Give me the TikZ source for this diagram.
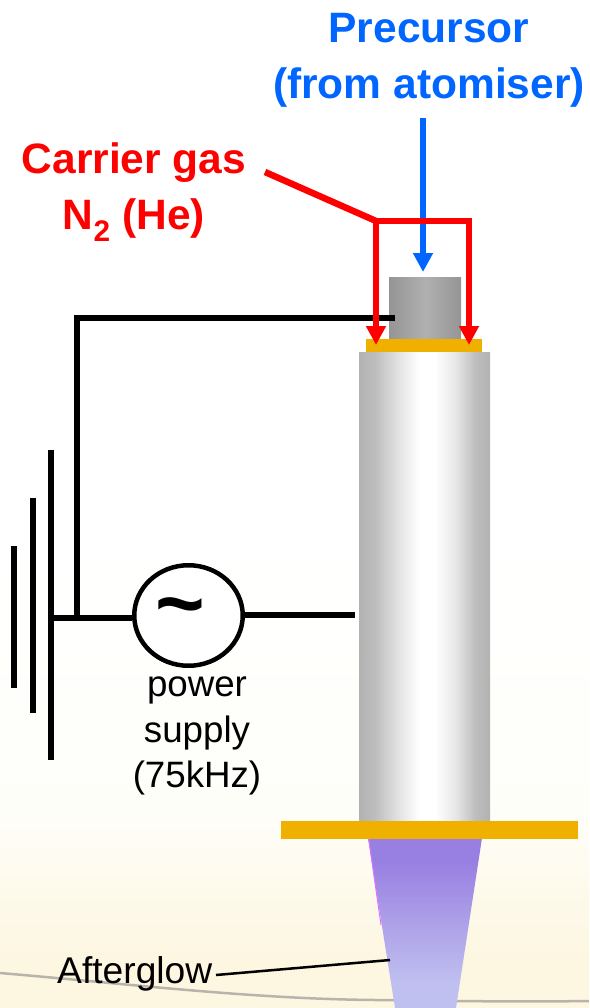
\documentclass[tikz,border=0pt]{standalone}
\usepackage{fontspec}
\setmainfont{Liberation Sans}
\usetikzlibrary{arrows.meta,shapes.geometric}
\definecolor{redgas}{HTML}{FF0000}
\definecolor{bluegas}{HTML}{0066FF}
\definecolor{flange}{HTML}{F0B000}
\definecolor{tubeg}{HTML}{B2B2B2}
\definecolor{tubeh}{HTML}{BDBDBD}
\definecolor{tubel}{HTML}{E6E6E6}
\definecolor{capd}{HTML}{959595}
\definecolor{capl}{HTML}{B0B0B0}
\definecolor{glowA}{HTML}{9880E2}
\definecolor{glowB}{HTML}{ADA0E8}
\definecolor{glowC}{HTML}{C0C0F0}
\definecolor{glowedge}{HTML}{E070FF}
\definecolor{curvegray}{HTML}{B8B4AC}
\pgfdeclarehorizontalshading{tubeshade}{100bp}{
  color(0bp)=(tubeg);
  color(25bp)=(tubeg);
  color(31bp)=(tubeh);
  color(41bp)=(tubel);
  color(48bp)=(white);
  color(54bp)=(white);
  color(62bp)=(tubel);
  color(69.5bp)=(tubeh);
  color(75bp)=(tubeg);
  color(100bp)=(tubeg)}
\pgfdeclarehorizontalshading{capshade}{100bp}{
  color(0bp)=(capd);
  color(25bp)=(capd);
  color(50bp)=(capl);
  color(75bp)=(capd);
  color(100bp)=(capd)}
\pgfdeclareverticalshading{glowshade}{100bp}{
  color(0bp)=(glowC);
  color(32bp)=(glowC);
  color(50bp)=(glowB);
  color(68bp)=(glowA);
  color(100bp)=(glowA)}
\definecolor{bgA}{HTML}{FFFFFF}
\definecolor{bgB}{HTML}{FEFEF9}
\definecolor{bgC}{HTML}{FDF6E0}
\pgfdeclareverticalshading{pageshade}{100bp}{
  color(0bp)=(bgC);
  color(27bp)=(bgC);
  color(35bp)=(bgB);
  color(48bp)=(bgA);
  color(100bp)=(bgA)}
\tikzset{
  x=1pt,y=-1pt,
  solid block/.style={draw=none,inner sep=0pt,outer sep=0pt,rectangle},
  wire/.style={line width=6.5pt,black},
  gasred/.style={line width=6.5pt,redgas},
  gasblue/.style={line width=6.5pt,bluegas},
  headtip/.style={-{Triangle[length=19pt,width=19pt]}},
  lab/.style={inner sep=0pt,align=center,text=black},
  big label/.style={inner sep=0pt,align=center,font=\fontsize{42.5}{56}\selectfont\bfseries},
}
\begin{document}
\begin{tikzpicture}
\useasboundingbox (0,0) rectangle (589,1008);
% page background
\shade[shading=pageshade] (0,0) rectangle (589,1008);
\draw[line width=2.5pt,curvegray] (0,973) .. controls (120,983) and (250,999) .. (376,1000) .. controls (450,1001) and (520,1002) .. (589,1001);
% plasma afterglow
\shade[shading=glowshade] (368,838) -- (482,838) -- (456,1008) -- (395,1008) -- cycle;
\draw[line width=1pt,glowedge] (368.6,838) -- (381,925);
% tube parts
\node[solid block,shading=capshade,shade,minimum width=72pt,minimum height=62pt] (cap) at (425,308) {};
\node[solid block,fill=flange,minimum width=116pt,minimum height=14pt] (topflange) at (424,346) {};
\node[solid block,shading=tubeshade,shade,minimum width=131pt,minimum height=470pt] (tube) at (424.5,587) {};
\node[solid block,fill=flange,minimum width=297pt,minimum height=18pt] (botflange) at (429.5,830) {};
% labels
\node[big label,text=bluegas] (precursor) at (429,60) {Precursor\\(from atomiser)};
\node[big label,text=redgas] (carrier) at (134,192) {Carrier gas\\N\textsubscript{2} (He)};
\node[lab,font=\fontsize{36.7}{45.5}\selectfont] (supplylabel) at (197,736) {power\\supply\\(75kHz)};
\node[lab,font=\fontsize{37.2}{40}\selectfont,anchor=west] (afterglow) at (57,974) {Afterglow};
% source
\node[ellipse,draw=black,line width=4.5pt,fill=white,minimum width=108.5pt,minimum height=100.5pt,inner sep=0pt,font=\fontsize{85}{85}\selectfont\bfseries] (source) at (188.5,615.5) {\hspace*{-17pt}\raisebox{-4pt}{\char"007E}};
% connection points
\coordinate (gasin) at (265,172);
\coordinate (split) at (376,221);
\coordinate (splitr) at (469,221);
\coordinate (tipl) at (376,345);
\coordinate (tipr) at (469,345);
\coordinate (bluein) at (423,118);
\coordinate (bluetip) at (423,272);
\coordinate (capwire) at (395,318);
\coordinate (corner) at (77,318);
\coordinate (gjoin) at (77,618);
\coordinate (plateA) at (51,618);
\coordinate (feed) at (355,615);
\coordinate (glowpt) at (390,960);
\coordinate (glowstart) at (216,975);
\coordinate (p1t) at (51,450);
\coordinate (p1b) at (51,760);
\coordinate (p2t) at (33,498);
\coordinate (p2b) at (33,713);
\coordinate (p3t) at (14,546);
\coordinate (p3b) at (14,688);
% wires
\draw[wire] (capwire) -- (corner) -- (gjoin);
\draw[wire] (plateA) -- (source.west |- plateA);
\draw[wire] (source.east |- feed) -- (feed);
\draw[wire] (p1t) -- (p1b);
\draw[wire] (p2t) -- (p2b);
\draw[wire] (p3t) -- (p3b);
\draw[black,line width=2.5pt] (glowstart) -- (glowpt);
% gas lines
\draw[gasblue,headtip] (bluein) -- (bluetip);
\draw[gasred,line join=miter] (gasin) -- (split);
\draw[gasred,headtip] (split) -- (tipl);
\draw[gasred,headtip] (split) -- (splitr) -- (tipr);
\end{tikzpicture}
\end{document}
